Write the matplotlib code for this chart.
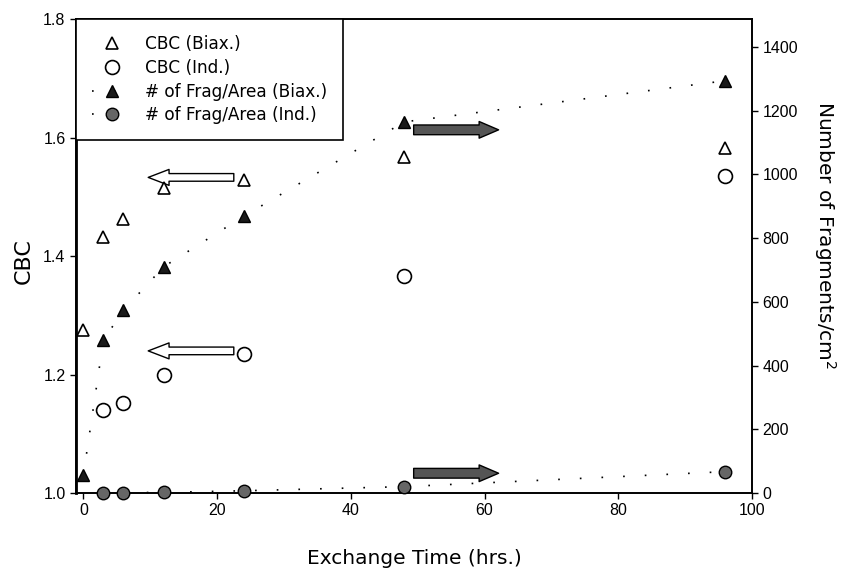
import matplotlib
matplotlib.use("Agg")
import matplotlib.pyplot as plt
from matplotlib.patches import FancyArrowPatch

plt.rcParams['font.family'] = ['Liberation Sans', 'DejaVu Sans']

# ---- data ----
time_biax = [0, 3, 6, 12, 24, 48, 96]
cbc_biax = [1.276, 1.433, 1.463, 1.515, 1.528, 1.568, 1.583]
time_ind = [3, 6, 12, 24, 48, 96]
cbc_ind = [1.140, 1.152, 1.200, 1.235, 1.366, 1.536]
frag_biax = [56, 480, 574, 710, 869, 1165, 1294]
frag_ind = [1, 1, 2, 7, 20, 67]

x_ticks = [0, 20, 40, 60, 80, 100]
cbc_ticks = [1.0, 1.2, 1.4, 1.6, 1.8]
frag_ticks = [0, 200, 400, 600, 800, 1000, 1200, 1400]

W, H = 848, 575
fig = plt.figure(figsize=(W / 100, H / 100), dpi=100)
ax = fig.add_axes([76 / W, 1 - 493 / H, (752 - 76) / W, (493 - 19.3) / H])
ax2 = ax.twinx()

ax.set_xlim(-1.1, 100)
ax.set_ylim(1.0, 1.8)
ax2.set_ylim(0, 1487)

dot = (0, (1, 12))

h1, = ax.plot(time_biax, cbc_biax, linestyle='none', marker='^', ms=8,
              mfc='white', mec='black', mew=1.2, clip_on=False, zorder=3)
h2, = ax.plot(time_ind, cbc_ind, linestyle='none', marker='o', ms=10,
              mfc='white', mec='black', mew=1.2, clip_on=False, zorder=3)
h3, = ax2.plot(time_biax, frag_biax, linestyle=dot, lw=1.2, color='black',
               marker='^', ms=8, mfc='#1a1a1a', mec='black', mew=1.0,
               clip_on=False, zorder=3)
h4, = ax2.plot(time_ind, frag_ind, linestyle=dot, lw=1.2, color='black',
               marker='o', ms=9, mfc='#666666', mec='black', mew=1.0,
               clip_on=False, zorder=3)

# arrows
style_open = 'simple,head_length=1.5,head_width=1.15,tail_width=0.55'
for y in (1.533, 1.240):
    ax.add_patch(FancyArrowPatch((22.5, y), (9.7, y), arrowstyle=style_open,
                                 mutation_scale=10, fc='white', ec='black',
                                 lw=1.0, shrinkA=0, shrinkB=0, zorder=2))
style_fill = 'simple,head_length=1.4,head_width=1.2,tail_width=0.7'
for y in (1140, 62):
    ax2.add_patch(FancyArrowPatch((49.4, y), (62.1, y), arrowstyle=style_fill,
                                  mutation_scale=10, fc='#555555', ec='black',
                                  lw=1.0, shrinkA=0, shrinkB=0, zorder=2))

# ticks and labels
ax.set_xticks(x_ticks)
ax.set_yticks(cbc_ticks)
ax.set_yticklabels(['1.0', '1.2', '1.4', '1.6', '1.8'])
ax2.set_yticks(frag_ticks)
for a in (ax, ax2):
    a.tick_params(direction='out', length=4, width=1, labelsize=11.5)
    for s in a.spines.values():
        s.set_linewidth(1.2)
ax.spines['left'].set_linewidth(2)

lab_font = ['DejaVu Sans']
ax.set_xlabel('Exchange Time (hrs.)', fontsize=14.5, labelpad=22,
              family=lab_font)
ax.set_ylabel('CBC', fontsize=16, family=lab_font)
ax.yaxis.set_label_coords(-0.062, 0.49)
ax2.set_ylabel('Number of Fragments/cm$^2$', fontsize=14.5, rotation=270,
               family=lab_font, va='center', ha='center')
ax2.yaxis.set_label_coords(1.108, 0.545)

leg = ax2.legend([h1, h2, h3, h4],
                 ['CBC (Biax.)', 'CBC (Ind.)', '# of Frag/Area (Biax.)',
                  '# of Frag/Area (Ind.)'],
                 loc='upper left', bbox_to_anchor=(0, 1), borderaxespad=0,
                 prop={'family': 'DejaVu Sans', 'size': 12.2},
                 frameon=True, fancybox=False, framealpha=1,
                 edgecolor='black', borderpad=0.95, handlelength=2.3,
                 handletextpad=0.8, labelspacing=0.33)
leg.get_frame().set_linewidth(1.2)

fig.savefig('out.png', dpi=100)
